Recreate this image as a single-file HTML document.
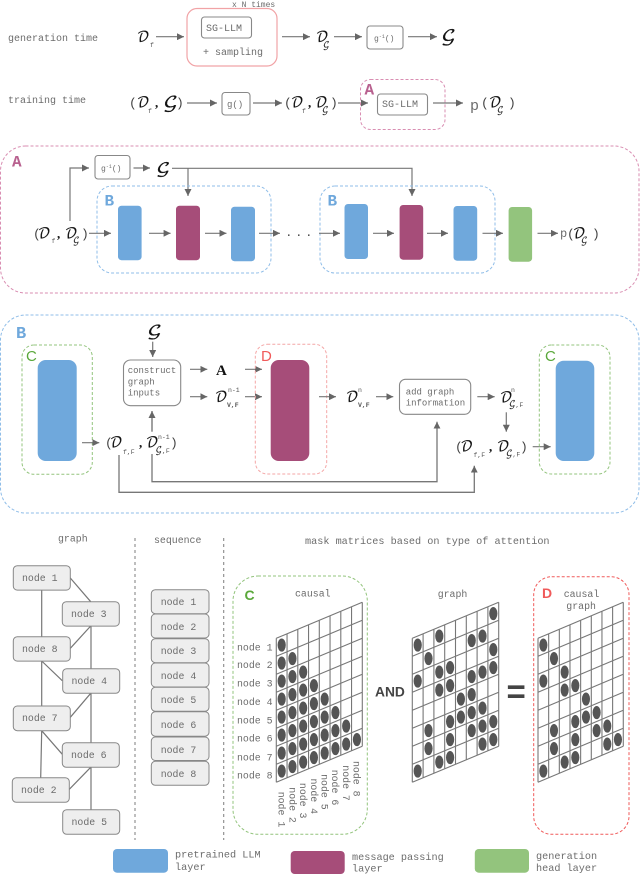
<!DOCTYPE html>
<html><head><meta charset="utf-8">
<style>
html,body{margin:0;padding:0;background:#fff}
svg{display:block}
text{font-family:"Liberation Mono",monospace;fill:#6c6c6c;font-size:10px}
.m{font-family:"DejaVu Math TeX Gyre","DejaVu Serif","Liberation Serif",serif;fill:#111;font-size:13.5px;stroke:#111;stroke-width:.25}
.gg{font-family:"DejaVu Math TeX Gyre","DejaVu Serif","Liberation Serif",serif;fill:#111;font-size:18px;stroke:#111;stroke-width:.3}
.sg{font-family:"DejaVu Math TeX Gyre","DejaVu Serif","Liberation Serif",serif;fill:#222;font-size:8.5px;stroke:#222;stroke-width:.15}
.p{font-size:13px;fill:#444}
.c{font-size:13px;fill:#111;font-family:"Liberation Serif",serif;font-weight:bold}
.s{font-size:6.5px;fill:#555}
.t{font-size:9.9px}
.b{font-weight:bold;font-size:16px}
.a{fill:none;stroke:#777;stroke-width:1.2;marker-end:url(#h)}
.l{fill:none;stroke:#777;stroke-width:1.2}
.n{fill:#eee;stroke:#888;stroke-width:1}
.bx{fill:#fff;stroke:#888;stroke-width:1.1}
.d{fill:none;stroke-width:1;stroke-dasharray:3 2}
.g{fill:none;stroke:#777;stroke-width:1.1;vector-effect:non-scaling-stroke}
</style></head>
<body>
<svg width="640" height="875" viewBox="0 0 640 875" xmlns="http://www.w3.org/2000/svg">
<defs>
<marker id="h" markerUnits="userSpaceOnUse" markerWidth="8" markerHeight="7" refX="7" refY="3.5" orient="auto"><path d="M0 0L7 3.5L0 7z" fill="#666"/></marker>
<ellipse id="d" rx="4.1" ry="6.6" fill="#555" transform="matrix(.09302,.02326,0,.05556,0,0)"/>
<path id="gr" class="g" d="M0 0V8M1 0V8M2 0V8M3 0V8M4 0V8M5 0V8M6 0V8M7 0V8M8 0V8M0 0H8M0 1H8M0 2H8M0 3H8M0 4H8M0 5H8M0 6H8M0 7H8M0 8H8"/>
</defs>

<!-- generation time -->
<text x="8" y="41">generation time</text>
<text x="232" y="7" style="font-size:8px">x N times</text>
<rect x="187" y="8.5" width="90" height="57.5" rx="10" fill="#fff" stroke="#f1a3a6" stroke-width="1.2"/>
<rect class="bx" x="201.5" y="17" width="50" height="21" rx="3"/>
<text x="206" y="31">SG-LLM</text>
<text x="203" y="55">+ sampling</text>
<text class="m" x="137" y="41.5">𝒟</text><text class="s" x="150" y="47">f</text>
<path class="a" d="M156 36.7H184"/>
<path class="a" d="M282 36.7H310"/>
<text class="m" x="316" y="41.5">𝒟</text><text class="sg" x="323" y="47.5">𝒢</text>
<path class="a" d="M334 36.7H362"/>
<rect class="bx" x="367" y="26" width="36" height="23" rx="3"/>
<text x="374" y="41" style="font-size:8px">g<tspan dy="-3" font-size="5">-1</tspan><tspan dy="3">()</tspan></text>
<path class="a" d="M408 36.7H437"/>
<text class="gg" transform="translate(441 41) scale(1.1 .88)">𝒢</text>

<!-- training time -->
<text x="8" y="103">training time</text>
<text class="p" x="129" y="107">(</text>
<text class="m" x="137" y="107">𝒟</text><text class="s" x="148" y="113">f</text>
<text class="c" x="155" y="107">,</text>
<text class="gg" transform="translate(163 107.5) scale(1.1 .88)">𝒢</text>
<text class="p" x="176" y="107">)</text>
<path class="a" d="M187 103H217"/>
<rect class="bx" x="222" y="92.5" width="28" height="22.5" rx="3"/>
<text x="227" y="107" style="font-size:9px">g()</text>
<path class="a" d="M253 103H282"/>
<text class="p" x="284" y="107">(</text>
<text class="m" x="291" y="107">𝒟</text><text class="s" x="302" y="113">f</text>
<text class="c" x="308" y="107">,</text>
<text class="m" x="315" y="107">𝒟</text><text class="sg" x="322" y="112.5">𝒢</text>
<text class="p" x="330" y="107">)</text>
<path class="a" d="M338 103H368"/>
<rect class="d" x="360.5" y="79.5" width="84.5" height="50" rx="10" stroke="#d98eb2"/>
<text class="b" x="364.5" y="94.5" style="fill:#b8618f">A</text>
<rect class="bx" x="377.5" y="94" width="50" height="21" rx="3"/>
<text x="382" y="107">SG-LLM</text>
<path class="a" d="M433 103H463"/>
<text x="470" y="110" style="font-size:15px">p</text>
<text class="p" x="481" y="107">(</text>
<text class="m" x="489" y="107">𝒟</text><text class="sg" x="497" y="112.5">𝒢</text>
<text class="p" x="508" y="107">)</text>

<!-- A panel -->
<rect class="d" x=".5" y="146" width="638.5" height="147" rx="25" stroke="#d98eb2"/>
<text class="b" x="12" y="166.5" style="fill:#b8618f">A</text>
<path class="a" d="M70 221V168H89"/>
<rect class="bx" x="95" y="155.5" width="35" height="23.5" rx="3"/>
<text x="101" y="171" style="font-size:8px">g<tspan dy="-3" font-size="5">-1</tspan><tspan dy="3">()</tspan></text>
<path class="a" d="M133.5 168H150"/>
<text class="gg" transform="translate(156 173) scale(1.05 .85)">𝒢</text>
<path class="a" d="M172 168.3H412V196"/>
<path class="a" d="M188 168.3V196"/>
<rect class="d" x="97" y="186" width="174" height="87" rx="15" stroke="#8fbde8"/>
<rect class="d" x="320" y="186" width="175" height="87" rx="15" stroke="#8fbde8"/>
<text class="b" x="104.5" y="205.5" style="fill:#6fa8dc">B</text>
<text class="b" x="327.5" y="205.5" style="fill:#6fa8dc">B</text>
<rect x="118" y="205.7" width="23.6" height="54.5" rx="3.5" fill="#6fa8dc"/>
<rect x="176" y="205.7" width="24" height="54.5" rx="3.5" fill="#a64d79"/>
<rect x="231" y="206.7" width="24" height="54.5" rx="3.5" fill="#6fa8dc"/>
<rect x="344.5" y="204" width="23.5" height="55" rx="3.5" fill="#6fa8dc"/>
<rect x="399.6" y="205" width="23.6" height="54.7" rx="3.5" fill="#a64d79"/>
<rect x="453.5" y="206" width="23.7" height="54.7" rx="3.5" fill="#6fa8dc"/>
<rect x="508.6" y="207" width="23.5" height="54.7" rx="3.5" fill="#93c47d"/>
<path class="a" d="M89 233.3H111"/>
<path class="a" d="M149 233.3H170.6"/>
<path class="a" d="M205 233.3H226.5"/>
<path class="a" d="M259 233.3H280"/>
<text x="285.5 295.5 305.5" y="236" style="font-size:11px;fill:#333">...</text>
<path class="a" d="M319 233.3H340"/>
<path class="a" d="M373 233.3H394"/>
<path class="a" d="M427 233.3H448"/>
<path class="a" d="M482.5 233.3H503"/>
<path class="a" d="M537.5 233.3H558"/>
<text class="p" x="33" y="238">(</text>
<text class="m" x="38" y="238">𝒟</text><text class="s" x="51.5" y="243">f</text>
<text class="c" x="57" y="238">,</text>
<text class="m" x="65" y="238">𝒟</text><text class="sg" x="73" y="243">𝒢</text>
<text class="p" x="81" y="238">)</text>
<text x="560" y="237" style="font-size:12px">p</text>
<text class="p" x="567" y="238">(</text>
<text class="m" x="573" y="238">𝒟</text><text class="sg" x="581" y="243">𝒢</text>
<text class="p" x="592" y="238">)</text>

<!-- B panel -->
<rect class="d" x=".5" y="315" width="638.5" height="198" rx="25" stroke="#8fbde8"/>
<text class="b" x="16" y="338" style="fill:#6fa8dc;font-size:17px">B</text>
<rect class="d" x="22" y="345" width="70.3" height="129.3" rx="12" stroke="#93c47d"/>
<text x="26" y="361" style="font-family:'Liberation Sans',sans-serif;font-size:15px;fill:#5aa83a">C</text>
<rect x="37.7" y="360" width="39" height="101" rx="8" fill="#6fa8dc"/>
<path class="a" d="M82 442.7H99.3"/>
<text class="p" x="105" y="447">(</text>
<text class="m" x="110" y="447">𝒟</text><text class="s" x="123" y="454">f,F</text>
<text class="c" x="139" y="447">,</text>
<text class="m" x="146" y="447">𝒟</text><text class="s" x="158" y="439">n-1</text><text class="sg" x="155.5" y="452.5">𝒢</text><text class="s" x="162" y="453">,F</text>
<text class="p" x="170" y="447">)</text>
<text class="gg" transform="translate(147 335.5) scale(1.1 .85)">𝒢</text>
<path class="a" d="M152.7 341.7V357"/>
<rect class="bx" x="123.5" y="360" width="57.2" height="45.7" rx="7"/>
<text x="127.7" y="373" style="font-size:9px">construct</text>
<text x="127.7" y="384.7" style="font-size:9px">graph</text>
<text x="127.7" y="395.3" style="font-size:9px">inputs</text>
<path class="a" d="M152 431.7V411" style="stroke-width:1.4"/>
<path class="a" d="M190 369.3H207.3"/>
<text x="216" y="375" style="font-family:'Liberation Serif',serif;font-weight:bold;font-size:15px;fill:#111">A</text>
<path class="a" d="M245 369.3H262"/>
<path class="a" d="M190 396.7H207.3"/>
<text class="m" x="215" y="401.5">𝒟</text><text class="s" x="228" y="392">n-1</text><text class="s" x="227" y="407" style="font-weight:bold">V,F</text>
<path class="a" d="M245 396.7H262"/>
<rect class="d" x="255.3" y="344.3" width="71.4" height="129.7" rx="12" stroke="#f4a6a6"/>
<text x="261" y="361" style="font-family:'Liberation Sans',sans-serif;font-size:15px;fill:#f05a5a">D</text>
<rect x="270.7" y="360" width="38.6" height="101" rx="8" fill="#a64d79"/>
<path class="a" d="M319 396.7H336"/>
<text class="m" x="346" y="401.5">𝒟</text><text class="s" x="358" y="392">n</text><text class="s" x="358" y="407" style="font-weight:bold">V,F</text>
<path class="a" d="M376 396.7H393.3"/>
<rect class="bx" x="399.5" y="379.3" width="71.2" height="35" rx="6"/>
<text x="405.7" y="394.3" style="font-size:9px">add graph</text>
<text x="405.7" y="405.3" style="font-size:9px">information</text>
<path class="a" d="M477.3 396.7H494.7"/>
<text class="m" x="500" y="402">𝒟</text><text class="s" x="511" y="392">n</text><text class="sg" x="509" y="406.5">𝒢</text><text class="s" x="515.5" y="407">,F</text>
<path class="a" d="M506.3 412.3V431.7"/>
<text class="p" x="455" y="451">(</text>
<text class="m" x="460.5" y="451">𝒟</text><text class="s" x="473.5" y="457">f,F</text>
<text class="c" x="489" y="451">,</text>
<text class="m" x="497" y="451">𝒟</text><text class="sg" x="506" y="456">𝒢</text><text class="s" x="512.5" y="456.5">,F</text>
<text class="p" x="520" y="451">)</text>
<path class="a" d="M532.7 446.7H550.7"/>
<rect class="d" x="539.3" y="345" width="70.7" height="129" rx="12" stroke="#93c47d"/>
<text x="545" y="361" style="font-family:'Liberation Sans',sans-serif;font-size:15px;fill:#5aa83a">C</text>
<rect x="555.7" y="360.7" width="38.6" height="100.3" rx="8" fill="#6fa8dc"/>
<path class="a" d="M119 455V492.3H474.3V465.7" style="stroke-width:1.3"/>
<path class="a" d="M152 454V481.7H437V421.7" style="stroke-width:1.3"/>

<!-- lower: graph -->
<text class="t" x="58" y="541.7">graph</text>
<path d="M135 538V840M223.7 538V840" fill="none" stroke="#888" stroke-width="1.1" stroke-dasharray="3 3"/>
<text class="t" x="154" y="543">sequence</text>
<text x="305" y="544" style="font-size:10.2px">mask matrices based on type of attention</text>

<path class="l" d="M41.7 590V637M70.3 578L90.7 601.7M91 626V810M70.3 648.3L90.7 626M41.7 661V706M41.7 661L62.3 680.7M70.3 717.3L90.7 693.3M41.7 730.7L62.3 754.3M41.7 730.7L40.7 777.7M69.3 789.3L90.7 767.3"/>
<rect class="n" x="13.3" y="565.7" width="57" height="24.4" rx="4"/><text class="t" x="22" y="581">node 1</text>
<rect class="n" x="62.3" y="601.7" width="57" height="24.4" rx="4"/><text class="t" x="71" y="617">node 3</text>
<rect class="n" x="13.3" y="636.7" width="57" height="24.4" rx="4"/><text class="t" x="22" y="652">node 8</text>
<rect class="n" x="62.7" y="668.7" width="57" height="24.6" rx="4"/><text class="t" x="71.5" y="684">node 4</text>
<rect class="n" x="13.3" y="706" width="57" height="24.7" rx="4"/><text class="t" x="22" y="721">node 7</text>
<rect class="n" x="62.3" y="742.7" width="57" height="24.6" rx="4"/><text class="t" x="71" y="758">node 6</text>
<rect class="n" x="12.3" y="777.7" width="57" height="24.6" rx="4"/><text class="t" x="21" y="793">node 2</text>
<rect class="n" x="62.7" y="809.7" width="57" height="24.6" rx="4"/><text class="t" x="71.5" y="825">node 5</text>

<!-- sequence -->
<rect class="n" x="151.3" y="589.7" width="57.7" height="24" rx="4"/><text class="t" x="160.7" y="605">node 1</text>
<rect class="n" x="151.3" y="614" width="57.7" height="24" rx="4"/><text class="t" x="160.7" y="630">node 2</text>
<rect class="n" x="151.3" y="638.7" width="57.7" height="24" rx="4"/><text class="t" x="160.7" y="654">node 3</text>
<rect class="n" x="151.3" y="663" width="57.7" height="24" rx="4"/><text class="t" x="160.7" y="679">node 4</text>
<rect class="n" x="151.3" y="687.3" width="57.7" height="24" rx="4"/><text class="t" x="160.7" y="703">node 5</text>
<rect class="n" x="151.3" y="711.7" width="57.7" height="24.5" rx="4"/><text class="t" x="160.7" y="728">node 6</text>
<rect class="n" x="151.3" y="737" width="57.7" height="23.5" rx="4"/><text class="t" x="160.7" y="753">node 7</text>
<rect class="n" x="151.3" y="761.3" width="57.7" height="24" rx="4"/><text class="t" x="160.7" y="777">node 8</text>

<!-- C matrix -->
<rect class="d" x="233" y="576" width="134.3" height="258.3" rx="25" stroke="#93c47d"/>
<text x="244.5" y="600" style="font-family:'Liberation Sans',sans-serif;font-weight:bold;font-size:14px;fill:#5aa83a">C</text>
<text class="t" x="295" y="596.7">causal</text>
<text class="t" x="237" y="650.3">node 1</text>
<text class="t" x="237" y="668">node 2</text>
<text class="t" x="237" y="686.7">node 3</text>
<text class="t" x="237" y="705">node 4</text>
<text class="t" x="237" y="723.3">node 5</text>
<text class="t" x="237" y="741.7">node 6</text>
<text class="t" x="237" y="760.3">node 7</text>
<text class="t" x="237" y="778.7">node 8</text>
<text class="t" transform="translate(278.7 791.7) rotate(90)">node 1</text>
<text class="t" transform="translate(289.4 787.3) rotate(90)">node 2</text>
<text class="t" transform="translate(300.1 782.9) rotate(90)">node 3</text>
<text class="t" transform="translate(310.8 778.5) rotate(90)">node 4</text>
<text class="t" transform="translate(321.5 774.1) rotate(90)">node 5</text>
<text class="t" transform="translate(332.2 769.7) rotate(90)">node 6</text>
<text class="t" transform="translate(342.9 765.3) rotate(90)">node 7</text>
<text class="t" transform="translate(353.6 761) rotate(90)">node 8</text>
<g transform="matrix(10.75,-4.5,0,18,276.3,638.3)">
<use href="#gr"/>
<use href="#d" x=".5" y=".5"/>
<use href="#d" x=".5" y="1.5"/><use href="#d" x="1.5" y="1.5"/>
<use href="#d" x=".5" y="2.5"/><use href="#d" x="1.5" y="2.5"/><use href="#d" x="2.5" y="2.5"/>
<use href="#d" x=".5" y="3.5"/><use href="#d" x="1.5" y="3.5"/><use href="#d" x="2.5" y="3.5"/><use href="#d" x="3.5" y="3.5"/>
<use href="#d" x=".5" y="4.5"/><use href="#d" x="1.5" y="4.5"/><use href="#d" x="2.5" y="4.5"/><use href="#d" x="3.5" y="4.5"/><use href="#d" x="4.5" y="4.5"/>
<use href="#d" x=".5" y="5.5"/><use href="#d" x="1.5" y="5.5"/><use href="#d" x="2.5" y="5.5"/><use href="#d" x="3.5" y="5.5"/><use href="#d" x="4.5" y="5.5"/><use href="#d" x="5.5" y="5.5"/>
<use href="#d" x=".5" y="6.5"/><use href="#d" x="1.5" y="6.5"/><use href="#d" x="2.5" y="6.5"/><use href="#d" x="3.5" y="6.5"/><use href="#d" x="4.5" y="6.5"/><use href="#d" x="5.5" y="6.5"/><use href="#d" x="6.5" y="6.5"/>
<use href="#d" x=".5" y="7.5"/><use href="#d" x="1.5" y="7.5"/><use href="#d" x="2.5" y="7.5"/><use href="#d" x="3.5" y="7.5"/><use href="#d" x="4.5" y="7.5"/><use href="#d" x="5.5" y="7.5"/><use href="#d" x="6.5" y="7.5"/><use href="#d" x="7.5" y="7.5"/>
</g>

<text x="375" y="696.7" style="font-family:'Liberation Sans',sans-serif;font-weight:bold;font-size:13.8px;fill:#444">AND</text>

<!-- graph matrix -->
<text class="t" x="437.7" y="597">graph</text>
<g transform="matrix(10.8,-4.5,0,18,412.3,638.3)">
<use href="#gr"/>
<use href="#d" x=".5" y=".5"/><use href="#d" x="2.5" y=".5"/><use href="#d" x="7.5" y=".5"/>
<use href="#d" x="1.5" y="1.5"/><use href="#d" x="5.5" y="1.5"/><use href="#d" x="6.5" y="1.5"/>
<use href="#d" x=".5" y="2.5"/><use href="#d" x="2.5" y="2.5"/><use href="#d" x="3.5" y="2.5"/><use href="#d" x="7.5" y="2.5"/>
<use href="#d" x="2.5" y="3.5"/><use href="#d" x="3.5" y="3.5"/><use href="#d" x="5.5" y="3.5"/><use href="#d" x="6.5" y="3.5"/><use href="#d" x="7.5" y="3.5"/>
<use href="#d" x="4.5" y="4.5"/><use href="#d" x="5.5" y="4.5"/>
<use href="#d" x="1.5" y="5.5"/><use href="#d" x="3.5" y="5.5"/><use href="#d" x="4.5" y="5.5"/><use href="#d" x="5.5" y="5.5"/><use href="#d" x="6.5" y="5.5"/>
<use href="#d" x="1.5" y="6.5"/><use href="#d" x="3.5" y="6.5"/><use href="#d" x="5.5" y="6.5"/><use href="#d" x="6.5" y="6.5"/><use href="#d" x="7.5" y="6.5"/>
<use href="#d" x=".5" y="7.5"/><use href="#d" x="2.5" y="7.5"/><use href="#d" x="3.5" y="7.5"/><use href="#d" x="6.5" y="7.5"/><use href="#d" x="7.5" y="7.5"/>
</g>

<text x="506.5" y="703" style="font-family:'Liberation Sans',sans-serif;font-weight:bold;font-size:33px;fill:#444">=</text>

<!-- D matrix -->
<rect class="d" x="533.7" y="576.7" width="95.3" height="257.6" rx="18" stroke="#f05a5a"/>
<text x="542" y="598" style="font-family:'Liberation Sans',sans-serif;font-weight:bold;font-size:14px;fill:#f05a5a">D</text>
<text class="t" x="563.7" y="597">causal</text>
<text class="t" x="566.3" y="609">graph</text>
<g transform="matrix(10.66,-4.5,0,18,538,638.3)">
<use href="#gr"/>
<use href="#d" x=".5" y=".5"/>
<use href="#d" x="1.5" y="1.5"/>
<use href="#d" x=".5" y="2.5"/><use href="#d" x="2.5" y="2.5"/>
<use href="#d" x="2.5" y="3.5"/><use href="#d" x="3.5" y="3.5"/>
<use href="#d" x="4.5" y="4.5"/>
<use href="#d" x="1.5" y="5.5"/><use href="#d" x="3.5" y="5.5"/><use href="#d" x="4.5" y="5.5"/><use href="#d" x="5.5" y="5.5"/>
<use href="#d" x="1.5" y="6.5"/><use href="#d" x="3.5" y="6.5"/><use href="#d" x="5.5" y="6.5"/><use href="#d" x="6.5" y="6.5"/>
<use href="#d" x=".5" y="7.5"/><use href="#d" x="2.5" y="7.5"/><use href="#d" x="3.5" y="7.5"/><use href="#d" x="6.5" y="7.5"/><use href="#d" x="7.5" y="7.5"/>
</g>

<!-- legend -->
<rect x="113" y="849" width="55" height="23.7" rx="4" fill="#6fa8dc"/>
<text x="175" y="857.7" style="font-size:10.2px">pretrained LLM</text>
<text x="175" y="870" style="font-size:10.2px">layer</text>
<rect x="290.7" y="851" width="54" height="23" rx="4" fill="#a64d79"/>
<text x="352" y="860" style="font-size:10.2px">message passing</text>
<text x="352" y="871.7" style="font-size:10.2px">layer</text>
<rect x="474.8" y="849" width="54.2" height="23.7" rx="4" fill="#93c47d"/>
<text x="536" y="859" style="font-size:10.2px">generation</text>
<text x="536" y="871" style="font-size:10.2px">head layer</text>
</svg>
</body></html>
